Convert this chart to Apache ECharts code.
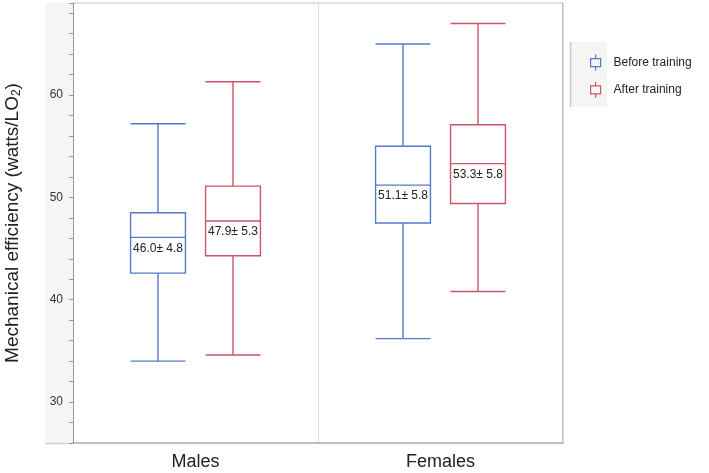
<!DOCTYPE html>
<html>
<head>
<meta charset="utf-8">
<script src="https://cdn.jsdelivr.net/npm/echarts@6/dist/echarts.min.js"></script>
<style>
  html, body { margin: 0; padding: 0; background: #fff; }
  #chart { width: 709px; height: 473px; }
</style>
</head>
<body>
<div id="chart"></div>
<script>
var categories = ['Males', 'Females']

// before training (blue)
var beforeMin = [34.0, 36.2]
var beforeQ1 = [42.6, 47.5]
var beforeMed = [46.1, 51.2]
var beforeQ3 = [48.5, 55.0]
var beforeMax = [57.2, 65.0]
var beforeLabels = ['46.0\u00b1 4.8', '51.1\u00b1 5.8']

// after training (red)
var afterMin = [34.6, 40.8]
var afterQ1 = [44.3, 49.4]
var afterMed = [47.7, 53.3]
var afterQ3 = [51.1, 57.1]
var afterMax = [61.3, 67.0]
var afterLabels = ['47.9\u00b1 5.3', '53.3\u00b1 5.8']

var yTickLabels = [30, 40, 50, 60]

var blue = '#5577cc'
var red = '#cc5566'
var font = '"Liberation Sans", Arial, sans-serif'

function buildData(mins, q1s, meds, q3s, maxs) {
  return categories.map(function (c, i) {
    return [i, mins[i], q1s[i], meds[i], q3s[i], maxs[i]]
  })
}

function boxRenderer(offsetRatio, color, labels) {
  return function (params, api) {
    var cat = api.value(0)
    var band = api.size([1, 0])[0]
    var w = band * 0.224
    var off = band * offsetRatio
    var pMin = api.coord([cat, api.value(1)])
    var pQ1 = api.coord([cat, api.value(2)])
    var pMed = api.coord([cat, api.value(3)])
    var pQ3 = api.coord([cat, api.value(4)])
    var pMax = api.coord([cat, api.value(5)])
    var x = pMin[0] + off
    var ls = { stroke: color, lineWidth: 1.4, fill: null }
    return {
      type: 'group',
      children: [
        { type: 'line', shape: { x1: x, y1: pMin[1], x2: x, y2: pQ1[1] }, style: ls },
        { type: 'line', shape: { x1: x, y1: pQ3[1], x2: x, y2: pMax[1] }, style: ls },
        { type: 'line', shape: { x1: x - w / 2, y1: pMin[1], x2: x + w / 2, y2: pMin[1] }, style: ls },
        { type: 'line', shape: { x1: x - w / 2, y1: pMax[1], x2: x + w / 2, y2: pMax[1] }, style: ls },
        { type: 'rect', shape: { x: x - w / 2, y: pQ3[1], width: w, height: pQ1[1] - pQ3[1] }, style: { stroke: color, lineWidth: 1.4, fill: '#fff' } },
        { type: 'line', shape: { x1: x - w / 2, y1: pMed[1], x2: x + w / 2, y2: pMed[1] }, style: ls },
        {
          type: 'text',
          style: {
            text: labels[params.dataIndex],
            x: x,
            y: pMed[1] + 5,
            align: 'center',
            verticalAlign: 'top',
            fill: '#222',
            font: '12px ' + font
          }
        }
      ]
    }
  }
}

var legendIcon = 'path://M5,0L5,4M0,4L10,4L10,12L0,12ZM5,12L5,16'

var myChart = echarts.init(document.getElementById('chart'))
var option = {
  animation: false,
  textStyle: { fontFamily: font },
  grid: { left: 73, right: 146, top: 3, bottom: 30, outerBoundsMode: 'none' },
  graphic: [
    // grey band behind tick labels
    { type: 'rect', z: -10, shape: { x: 45, y: 3, width: 28, height: 440 }, style: { fill: '#f5f5f5' } },
    { type: 'line', shape: { x1: 45, y1: 443.5, x2: 73, y2: 443.5 }, style: { stroke: '#cfcfcf', lineWidth: 1.5 } },
    // plot frame top / right
    { type: 'line', shape: { x1: 73, y1: 3, x2: 563, y2: 3 }, style: { stroke: '#e3e3d6', lineWidth: 2 } },
    { type: 'line', shape: { x1: 563, y1: 3, x2: 563, y2: 443 }, style: { stroke: '#aaaaaa', lineWidth: 1.5 } },
    // legend frame
    { type: 'rect', z: -10, shape: { x: 570, y: 42, width: 37, height: 65 }, style: { fill: '#f5f5f5' } },
    { type: 'line', shape: { x1: 570.5, y1: 42, x2: 570.5, y2: 107 }, style: { stroke: '#c8c8c8', lineWidth: 1.5 } }
  ],
  legend: {
    orient: 'vertical',
    left: 585,
    top: 49,
    itemWidth: 10,
    itemHeight: 16,
    itemGap: 10,
    icon: legendIcon,
    textStyle: { fontSize: 12, color: '#222', padding: [0, 0, 0, 8], fontFamily: font },
    data: [
      { name: 'Before training', itemStyle: { color: 'transparent', borderColor: blue, borderWidth: 1.2 } },
      { name: 'After training', itemStyle: { color: 'transparent', borderColor: red, borderWidth: 1.2 } }
    ]
  },
  xAxis: {
    type: 'category',
    data: categories,
    axisLine: { lineStyle: { color: '#aaaaaa', width: 1.5 } },
    axisTick: { show: false },
    axisLabel: { fontSize: 18, color: '#222', margin: 10 },
    splitLine: { show: true, lineStyle: { color: '#dddddd', width: 1 } }
  },
  yAxis: {
    type: 'value',
    min: 26,
    max: 69,
    interval: 2,
    name: 'Mechanical efficiency (watts/LO{sub|2})',
    nameLocation: 'middle',
    nameGap: 50,
    nameTextStyle: {
      fontSize: 19,
      color: '#222',
      rich: { sub: { fontSize: 12, padding: [9, 0, 0, 0], color: '#222' } }
    },
    axisLine: { show: true, lineStyle: { color: '#999999' } },
    axisTick: { show: true, length: 4, lineStyle: { color: '#999999' } },
    axisLabel: {
      fontSize: 12,
      color: '#333',
      margin: 10,
      formatter: function (v) {
        return yTickLabels.indexOf(v) >= 0 ? String(v) : ''
      }
    },
    splitLine: { show: false }
  },
  series: [
    {
      name: 'Before training',
      type: 'custom',
      renderItem: boxRenderer(-0.153, blue, beforeLabels),
      data: buildData(beforeMin, beforeQ1, beforeMed, beforeQ3, beforeMax),
      encode: { x: 0, y: [1, 2, 3, 4, 5] },
      itemStyle: { color: blue }
    },
    {
      name: 'After training',
      type: 'custom',
      renderItem: boxRenderer(0.153, red, afterLabels),
      data: buildData(afterMin, afterQ1, afterMed, afterQ3, afterMax),
      encode: { x: 0, y: [1, 2, 3, 4, 5] },
      itemStyle: { color: red }
    }
  ]
}
myChart.setOption(option)
window.addEventListener('resize', function () {
  myChart.resize()
})
</script>
</body>
</html>
